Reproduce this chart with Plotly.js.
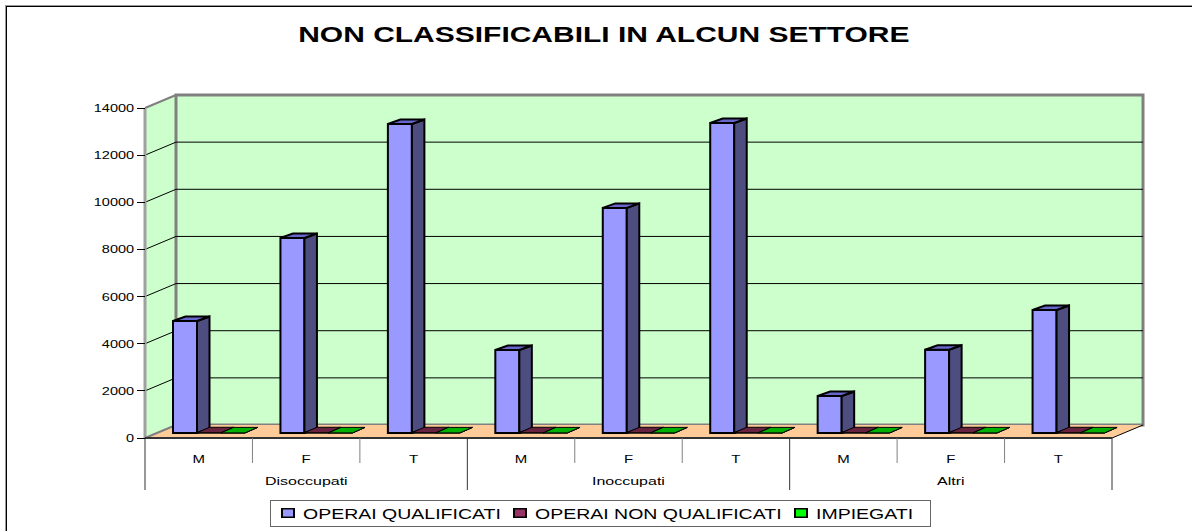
<!DOCTYPE html>
<html><head><meta charset="utf-8">
<script src="https://cdn.plot.ly/plotly-3.0.1.min.js"></script>
<style>
html,body{margin:0;padding:0;background:#fff}#c{width:1192px;height:531px}
#c text.legendtext{transform-box:fill-box;transform-origin:center;transform:translate(-5px,0) scaleY(.72)}
#c .legendpoints path{transform-box:fill-box;transform-origin:center;transform:translate(20px,0) scaleY(.72);stroke-width:2px !important}
#c text.annotation-text{transform-box:fill-box;transform-origin:center;transform:scaleY(.72)}
#c g.ytick,#c g.xtick{transform-box:fill-box;transform-origin:center;transform:scaleY(.78)}
</style>
</head><body><div id="c"></div>
<script>
const subCategories = ['M','F','T','M','F','T','M','F','T'];
const groups = ['Disoccupati','Inoccupati','Altri'];
const operaiQualificati = [4750, 8270, 13110, 3520, 9550, 13150, 1570, 3530, 5220];
const operaiNonQualificati = [10, 10, 10, 10, 10, 10, 10, 10, 10];
const impiegati = [5, 5, 5, 5, 5, 5, 5, 5, 5];
const yTicks = [0,2000,4000,6000,8000,10000,12000,14000];
const seriesNames = ['OPERAI QUALIFICATI','OPERAI NON QUALIFICATI','IMPIEGATI'];
const frontColors = ['#9999ff','#993366','#00ff00'];
const sideColors = ['#4d4d80','#4d1a33','#008000'];
const topColors = ['#6666cc','#66223f','#00b000'];

const FONT='Liberation Sans, Arial, sans-serif';
const L=145, R=1112, T=108, B=438, W=1192, H=531;
const pxX=(R-L)/9, pxY=(B-T)/14000;
const wallDx=31/pxX, wallDy=13/pxY;
const barBase=5/pxY, barDepth=12.5/pxX;
const barLifts=[4.5/pxY,5.5/pxY,5.5/pxY];
const barStart=28/pxX, barW=24/pxX;

const shapes=[];
const poly=(pts,fill,lc,lw)=>shapes.push({type:'path',layer:'below',xref:'x',yref:'y',
  path:'M'+pts.map(p=>p[0]+','+p[1]).join('L')+'Z',fillcolor:fill,line:{color:lc,width:lw}});
const seg=(x0,y0,x1,y1,c,w)=>shapes.push({type:'line',layer:'below',xref:'x',yref:'y',x0,y0,x1,y1,line:{color:c,width:w}});

poly([[0,0],[wallDx,wallDy],[wallDx,14000+wallDy],[0,14000]],'#ccffcc','#ccffcc',0);
poly([[wallDx,wallDy],[9+wallDx,wallDy],[9+wallDx,14000+wallDy],[wallDx,14000+wallDy]],'#ccffcc','#808080',3);
poly([[0,0],[9,0],[9+wallDx,wallDy],[wallDx,wallDy]],'#ffcc99','#ffcc99',0);
yTicks.slice(1,-1).forEach(v=>{
  seg(0,v,wallDx,v+wallDy,'#000',1);
  seg(wallDx,v+wallDy,9+wallDx,v+wallDy,'#000',1);
});
seg(0,14000,wallDx,14000+wallDy,'#808080',2);
seg(0,0,0,14000,'#a0a0a0',3);
seg(0,0,wallDx,wallDy,'#808080',2);
seg(9,0,9+wallDx,wallDy,'#000',1);
seg(0,0,9,0,'#333',2);
for(let i=0;i<=9;i++){
  const major=i%3===0;
  seg(i,0,i,-(major?52:25)/pxY,major?'#333':'#808080',1);
}
const frame=(x0,y0,x1,y1,c)=>shapes.push({type:'line',layer:'above',xref:'paper',yref:'paper',
  x0:x0/W,x1:x1/W,y0:(H-y0)/H,y1:(H-y1)/H,line:{color:c,width:1}});
frame(5,5.5,1192,5.5,'#999'); frame(5.5,5,5.5,531,'#999');
frame(6,6.5,1192,6.5,'#000'); frame(6.5,6,6.5,531,'#000');

const traces=[];
const seriesValues=[operaiQualificati,operaiNonQualificati,impiegati];
const centers=subCategories.map((_,i)=>i);
seriesValues.forEach((vals,s)=>{
  traces.push({type:'bar',name:seriesNames[s],x:centers.map(i=>i+barStart+barW*s+barW/2),y:vals,
    base:centers.map(()=>barBase),width:barW,
    marker:{color:frontColors[s],line:{color:'#000',width:s===0?2:1}},hoverinfo:'y+name'});
});
seriesValues.forEach((vals,s)=>{
  const sx=[],sy=[],tx=[],ty=[];
  const barLift=barLifts[s];
  vals.forEach((v,i)=>{
    const x0=i+barStart+barW*s,x1=x0+barW,y0=barBase,y1=barBase+v;
    sx.push(x1,x1+barDepth,x1+barDepth,x1,x1,null);
    sy.push(y0,y0+barLift,y1+barLift,y1,y0,null);
    tx.push(x0,x1,x1+barDepth,x0+barDepth,x0,null);
    ty.push(y1,y1,y1+barLift,y1+barLift,y1,null);
  });
  const lw=s===0?2:1;
  const face=(x,y,c)=>({type:'scatter',mode:'lines',x,y,fill:'toself',fillcolor:c,
    line:{color:'#000',width:lw,simplify:false},showlegend:false,hoverinfo:'skip'});
  traces.push(face(sx,sy,sideColors[s]));
  traces.push(face(tx,ty,topColors[s]));
});

const annotations=groups.map((g,i)=>({text:g,xref:'x',yref:'y',x:1.5+3*i,y:-43/pxY,showarrow:false,
  xanchor:'center',yanchor:'middle',font:{family:FONT,size:16,color:'#000'}}));
annotations.push({text:'NON CLASSIFICABILI IN ALCUN SETTORE',xref:'paper',yref:'paper',
  x:604/W,y:(H-34)/H,showarrow:false,xanchor:'center',yanchor:'middle',
  font:{family:FONT,size:30,weight:'bold',color:'#000'}});

const layout={
  width:W,height:H,autosize:false,showlegend:true,
  margin:{l:0,r:0,t:0,b:0,pad:0,autoexpand:false},
  paper_bgcolor:'#fff',plot_bgcolor:'rgba(0,0,0,0)',
  barmode:'overlay',hovermode:'closest',
  font:{family:FONT,color:'#000'},
  xaxis:{range:[-L/pxX,(W-L)/pxX],anchor:'free',position:(H-B)/H,tickmode:'array',
    tickvals:centers.map(i=>i+0.5),ticktext:subCategories,
    showgrid:false,zeroline:false,showline:false,ticks:'outside',ticklen:7,tickcolor:'rgba(0,0,0,0)',
    tickfont:{size:15,family:FONT},fixedrange:true},
  yaxis:{range:[-(H-B)/pxY,B/pxY],anchor:'free',position:L/W,tickmode:'array',
    tickvals:yTicks,ticktext:yTicks.map(String),
    showgrid:false,zeroline:false,showline:false,ticks:'outside',ticklen:8,tickwidth:1,tickcolor:'#000',
    tickfont:{size:14.5,family:FONT},fixedrange:true},
  shapes,annotations,
  legend:{orientation:'h',xref:'paper',yref:'paper',x:270/W,y:(H-500)/H,xanchor:'left',yanchor:'top',
    bgcolor:'#fff',bordercolor:'#666',borderwidth:1,traceorder:'normal',
    font:{size:19.5,family:FONT,color:'#000'}}
};
Plotly.newPlot('c',traces,layout,{displayModeBar:false}).then(gd=>{
  const lg=gd.querySelector('g.legend');
  lg.setAttribute('transform','translate(270,500)');
  const bg=lg.querySelector('rect.bg');
  bg.setAttribute('x',0.5);bg.setAttribute('y',0.5);
  bg.setAttribute('width',660);bg.setAttribute('height',26);
  const entryX=[-2,230,511];
  lg.querySelectorAll('g.traces').forEach((t,i)=>t.setAttribute('transform','translate('+entryX[i]+',13)'));
});
</script></body></html>
